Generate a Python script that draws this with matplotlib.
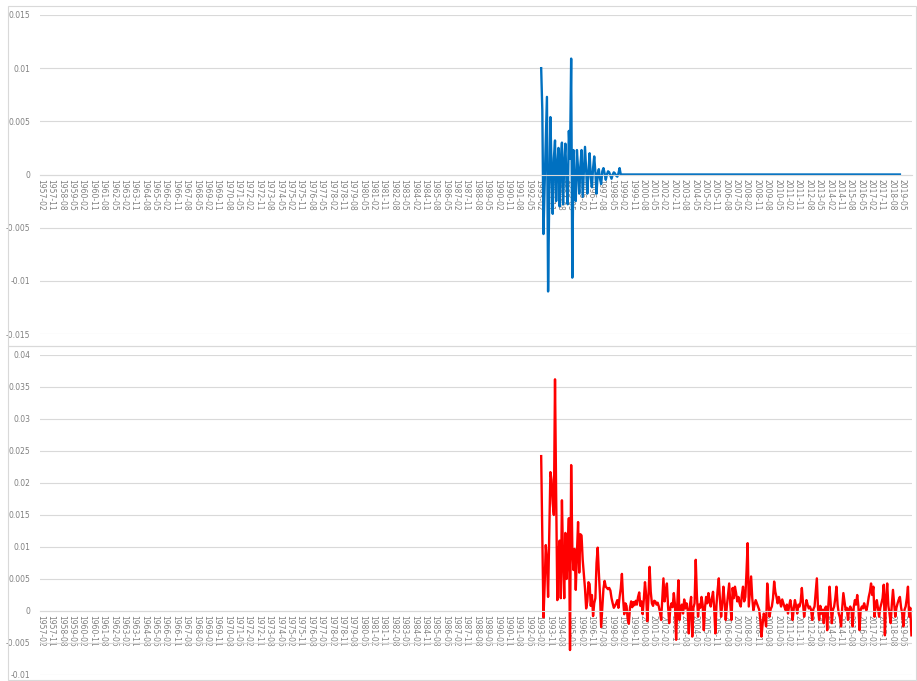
import numpy as np
import pandas as pd
import matplotlib
matplotlib.use('Agg')
import matplotlib.pyplot as plt
from matplotlib.patches import Rectangle

# Monthly axis: 1957-02 .. 2020-01, a label every 9 months
months = pd.period_range('1957-02', '2020-01', freq='M').strftime('%Y-%m').tolist()
label_step = 9
series_start = '1993-04'

# First series (blue), monthly from series_start
blue_vals = [
    0.0100, 0.0060, -0.0056, -0.0010, 0.0030, 0.0073, -0.0110, -0.0020, 0.0054, 0.0005,
    -0.0037, 0.0015, 0.0032, -0.0025, 0.0008, 0.0025, -0.0030, 0.0012, 0.0030, -0.0028,
    0.0010, 0.0029, -0.0010, -0.0028, 0.0041, 0.0015, 0.0109, -0.0097, 0.0023, -0.0010,
    -0.0025, 0.0023, 0.0005, -0.0018, 0.0008, 0.0023, -0.0021, 0.0002, 0.0026, 0.0004,
    -0.0018, 0.0003, 0.0020, -0.0002, -0.0012, 0.0006, 0.0017, 0.0002, -0.0018, 0.0001,
    0.0005, -0.0004, -0.0009, 0.0003, 0.0006, 0.0001, -0.0005, 0.0000, 0.0003, 0.0002,
    -0.0001, -0.0004, 0.0000, 0.0002, 0.0001, -0.0001, -0.0002, 0.0001, 0.0006, 0.0000,
    0, 0, 0, 0, 0, 0, 0, 0, 0, 0, 0, 0, 0, 0, 0, 0, 0, 0, 0, 0, 0, 0, 0, 0, 0, 0, 0, 0, 0, 0,
    0, 0, 0, 0, 0, 0, 0, 0, 0, 0, 0, 0, 0, 0, 0, 0, 0, 0, 0, 0, 0, 0, 0, 0, 0, 0, 0, 0, 0, 0,
    0, 0, 0, 0, 0, 0, 0, 0, 0, 0, 0, 0, 0, 0, 0, 0, 0, 0, 0, 0, 0, 0, 0, 0, 0, 0, 0, 0, 0, 0,
    0, 0, 0, 0, 0, 0, 0, 0, 0, 0, 0, 0, 0, 0, 0, 0, 0, 0, 0, 0, 0, 0, 0, 0, 0, 0, 0, 0, 0, 0,
    0, 0, 0, 0, 0, 0, 0, 0, 0, 0, 0, 0, 0, 0, 0, 0, 0, 0, 0, 0, 0, 0, 0, 0, 0, 0, 0, 0, 0, 0,
    0, 0, 0, 0, 0, 0, 0, 0, 0, 0, 0, 0, 0, 0, 0, 0, 0, 0, 0, 0, 0, 0, 0, 0, 0, 0, 0, 0, 0, 0,
    0, 0, 0, 0, 0, 0, 0, 0, 0, 0, 0, 0, 0, 0, 0, 0, 0, 0, 0, 0, 0, 0, 0, 0, 0, 0, 0, 0, 0, 0,
    0, 0, 0, 0, 0, 0, 0, 0, 0, 0, 0, 0, 0, 0, 0, 0, 0, 0, 0, 0, 0, 0, 0, 0, 0, 0, 0, 0, 0, 0,
    0, 0,
]

# Second series (red), monthly from series_start
red_vals = [
    0.0242, 0.0120, -0.0010, 0.0040, 0.0103, 0.0080, 0.0022, 0.0120, 0.0217, 0.0205,
    0.0168, 0.0150, 0.0362, 0.0180, 0.0017, 0.0090, 0.0110, 0.0020, 0.0173, 0.0080,
    0.0020, 0.0122, 0.0050, 0.0090, 0.0145, -0.0061, 0.0228, 0.0100, 0.0064, 0.0097,
    0.0033, 0.0090, 0.0139, 0.0060, 0.0120, 0.0118, 0.0080, 0.0058, 0.0035, 0.0004,
    0.0015, 0.0045, 0.0042, 0.0008, 0.0025, -0.0008, 0.0012, 0.0020, 0.0075, 0.0099,
    0.0060, 0.0025, -0.0025, 0.0005, 0.0035, 0.0047, 0.0038, 0.0036, 0.0034, 0.0036,
    0.0032, 0.0020, 0.0012, 0.0005, 0.0008, 0.0012, 0.0017, 0.0005, 0.0022, 0.0035,
    0.0058, 0.0020, -0.0005, 0.0012, 0.0008, -0.0012, -0.0020, 0.0005, 0.0015, 0.0006,
    0.0014, 0.0009, 0.0016, 0.0010, 0.0022, 0.0029, 0.0008, 0.0015, -0.0005, 0.0018,
    0.0045, 0.0025, -0.0016, 0.0020, 0.0069, 0.0030, 0.0012, 0.0008, 0.0016, 0.0015,
    0.0010, 0.0013, 0.0007, -0.0002, -0.0014, 0.0020, 0.0051, 0.0015, 0.0030, 0.0043,
    0.0008, -0.0019, 0.0005, 0.0012, 0.0006, 0.0028, 0.0010, -0.0045, 0.0010, 0.0048,
    -0.0014, 0.0005, 0.0010, -0.0004, 0.0018, 0.0004, 0.0012, 0.0002, -0.0035, 0.0010,
    0.0022, -0.0040, 0.0005, 0.0012, 0.0080, 0.0025, -0.0009, 0.0010, 0.0005, 0.0022,
    0.0010, -0.0030, 0.0005, 0.0022, 0.0012, 0.0028, 0.0015, 0.0007, 0.0020, 0.0030,
    0.0005, -0.0035, 0.0010, 0.0033, 0.0051, 0.0018, -0.0009, 0.0012, 0.0038, 0.0015,
    -0.0014, 0.0008, 0.0025, 0.0043, 0.0010, -0.0014, 0.0036, 0.0020, 0.0038, 0.0028,
    0.0015, 0.0022, 0.0012, 0.0007, 0.0025, 0.0038, 0.0015, 0.0022, 0.0060, 0.0106,
    0.0007, 0.0030, 0.0054, 0.0020, 0.0001, 0.0010, 0.0017, 0.0012, 0.0007, 0.0002,
    -0.0014, -0.0040, -0.0020, -0.0004, -0.0010, -0.0024, 0.0043, 0.0015, -0.0009, 0.0003,
    0.0007, 0.0020, 0.0046, 0.0030, 0.0022, 0.0012, 0.0022, 0.0015, 0.0007, 0.0018,
    0.0012, 0.0006, 0.0001, 0.0010, -0.0004, 0.0008, 0.0017, 0.0005, -0.0014, 0.0004,
    0.0017, 0.0008, -0.0004, 0.0010, 0.0007, 0.0015, 0.0036, 0.0012, -0.0009, 0.0005,
    0.0017, 0.0010, 0.0004, 0.0007, 0.0002, -0.0014, 0.0003, 0.0007, 0.0030, 0.0051,
    0.0005, -0.0014, 0.0008, -0.0004, 0.0002, -0.0019, 0.0004, 0.0007, -0.0030, 0.0010,
    0.0038, 0.0012, -0.0019, 0.0002, 0.0007, 0.0020, 0.0038, 0.0010, -0.0004, -0.0010,
    -0.0024, 0.0005, 0.0028, 0.0015, 0.0001, 0.0005, -0.0014, 0.0003, 0.0007, 0.0002,
    -0.0024, 0.0006, 0.0017, 0.0010, 0.0025, 0.0008, -0.0030, 0.0002, 0.0007, 0.0004,
    0.0012, 0.0005, 0.0001, 0.0010, 0.0022, 0.0030, 0.0043, 0.0025, 0.0038, -0.0009,
    0.0008, 0.0017, 0.0004, -0.0009, 0.0005, 0.0012, 0.0020, 0.0041, -0.0038, 0.0020,
    0.0043, 0.0008, -0.0004, -0.0019, 0.0010, 0.0033, 0.0012, -0.0009, 0.0005, 0.0012,
    0.0018, 0.0022, 0.0006, -0.0004, -0.0024, 0.0002, 0.0007, 0.0020, 0.0038, -0.0009,
    0.0005, -0.0038,
]

top_ticks = [-0.015, -0.01, -0.005, 0, 0.005, 0.01, 0.015]
top_labels = ['-0.015', '-0.01', '-0.005', '0', '0.005', '0.01', '0.015']
bot_ticks = [-0.01, -0.005, 0, 0.005, 0.01, 0.015, 0.02, 0.025, 0.03, 0.035, 0.04]
bot_labels = ['-0.01', '-0.005', '0', '0.005', '0.01', '0.015', '0.02', '0.025',
              '0.03', '0.035', '0.04']

GRID = '#d9d9d9'
TXT = '#808080'


def place(vals):
    # put the monthly values onto the full month axis, blank before the start
    y = np.full(len(months), np.nan)
    i0 = months.index(series_start)
    y[i0:i0 + len(vals)] = vals
    return y


def style(ax, ticks, labels):
    # the spine move resets the tick setup, so it goes first
    for s in ('top', 'right', 'left'):
        ax.spines[s].set_visible(False)
    ax.spines['bottom'].set_position(('data', 0))
    ax.spines['bottom'].set_color(GRID)
    ax.spines['bottom'].set_linewidth(0.8)

    ax.set_ylim(ticks[0], ticks[-1])
    ax.set_yticks(ticks)
    ax.set_yticklabels(labels, fontsize=5.5, color=TXT)
    ax.yaxis.grid(True, color=GRID, linewidth=0.8)
    ax.set_axisbelow(True)

    ax.set_xlim(-0.5, len(months) - 0.5)
    pos = list(range(0, len(months), label_step))
    ax.set_xticks(pos)
    ax.set_xticklabels([months[p] for p in pos], rotation=-90, fontsize=5.5,
                       color=TXT, va='top', ha='center')
    ax.tick_params(axis='both', length=0)
    ax.tick_params(axis='x', pad=3)
    ax.tick_params(axis='y', pad=7)
    ax.patch.set_alpha(0)


def main():
    W, H = 917, 681
    fig = plt.figure(figsize=(W / 100, H / 100), dpi=100)

    # chart area frames
    for y0, y1 in [(6, 346), (346, 680)]:
        fig.patches.append(Rectangle((8 / W, 1 - y1 / H), (W - 9) / W, (y1 - y0) / H,
                                     transform=fig.transFigure, fill=False,
                                     edgecolor=GRID, linewidth=0.8))

    x = np.arange(len(months))

    ax1 = fig.add_axes([40 / W, 1 - 334 / H, 872 / W, (334 - 15) / H])
    style(ax1, top_ticks, top_labels)
    ax1.plot(x, place(blue_vals), color='#0070c0', linewidth=1.7)

    ax2 = fig.add_axes([40 / W, 1 - 675 / H, 872 / W, (675 - 355) / H])
    style(ax2, bot_ticks, bot_labels)
    ax2.plot(x, place(red_vals), color='#ff0000', linewidth=1.7)

    fig.savefig('out.png', dpi=100)


if __name__ == '__main__':
    main()
